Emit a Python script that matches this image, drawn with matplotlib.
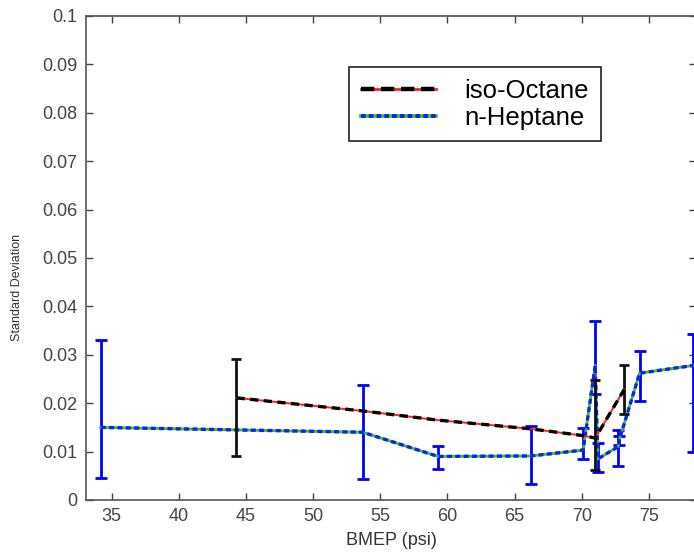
import numpy as np
import matplotlib.pyplot as plt
from matplotlib.legend_handler import HandlerTuple

plt.rcParams['font.family'] = ['Liberation Sans', 'DejaVu Sans']

# n-Heptane: BMEP, std dev, lower / upper error bound
hep_x = [34.2, 53.7, 59.3, 66.2, 70.1, 71.0, 71.2, 72.7, 72.8, 74.3, 78.3]
hep_y = [0.0150, 0.0140, 0.0090, 0.0091, 0.0103, 0.0278, 0.0085, 0.0110, 0.0125, 0.0262, 0.0278]
hep_lo = [0.0045, 0.0043, 0.0065, 0.0033, 0.0084, 0.0220, 0.0057, 0.0070, 0.0113, 0.0204, 0.0099]
hep_hi = [0.0331, 0.0237, 0.0112, 0.0152, 0.0149, 0.0370, 0.0117, 0.0144, 0.0132, 0.0307, 0.0342]

# iso-Octane
oct_x = [44.3, 53.7, 59.3, 66.2, 70.1, 71.0, 73.15]
oct_y = [0.0211, 0.0184, 0.0165, 0.0147, 0.0133, 0.0128, 0.0228]
# only these bars are visible
oct_bar_x = [44.3, 71.0, 73.15]
oct_bar_y = [0.0211, 0.0155, 0.0228]
oct_bar_lo = [0.0091, 0.0062, 0.0177]
oct_bar_hi = [0.0292, 0.0247, 0.0278]

fig = plt.figure(figsize=(6.94, 5.55), dpi=100)
ax = fig.add_axes([86 / 694, 55 / 555, 610 / 694, 484 / 555])

hy = np.array(hep_y)
ax.errorbar(hep_x, hep_y, yerr=[hy - np.array(hep_lo), np.array(hep_hi) - hy],
            fmt='none', ecolor='#0000ff', elinewidth=2, capsize=4.3, capthick=2, zorder=2)
ax.plot(hep_x, hep_y, color='#22cc22', lw=2.0, zorder=3)
ax.plot(hep_x, hep_y, color='#1a1aff', lw=2.4, ls=(0, (1.5, 1)), zorder=4)

oy = np.array(oct_bar_y)
ax.errorbar(oct_bar_x, oct_bar_y, yerr=[oy - np.array(oct_bar_lo), np.array(oct_bar_hi) - oy],
            fmt='none', ecolor='#111111', elinewidth=2, capsize=3.8, capthick=2, zorder=5)
ax.plot(oct_x, oct_y, color='#ff2020', lw=1.4, zorder=6)
ax.plot(oct_x, oct_y, color='#000000', lw=2.4, ls=(0, (2.5, 1.6)), zorder=7)

ax.set_xlim(33.1, 78.5)
ax.set_ylim(0, 0.1)
ax.set_xticks([35, 40, 45, 50, 55, 60, 65, 70, 75])
ax.set_yticks(np.arange(0, 0.101, 0.01))
ax.set_yticklabels(['0', '0.01', '0.02', '0.03', '0.04', '0.05', '0.06', '0.07', '0.08', '0.09', '0.1'])
ax.tick_params(direction='in', length=5, width=1, colors='#444444', labelsize=13,
               top=True, right=True, pad=6)
for s in ax.spines.values():
    s.set_color('#555555')
    s.set_linewidth(1.2)

ax.set_xlabel('BMEP (psi)', fontsize=13, color='#333333', labelpad=5)
ax.set_ylabel('Standard Deviation', fontsize=9, color='#333333')
ax.yaxis.set_label_coords((23 - 86) / 610, (500 - 287) / 484)

# legend proxies: overlaid pairs of lines
h1 = (plt.Line2D([], [], color='#ff2020', lw=2),
      plt.Line2D([], [], color='#000000', lw=3.2, ls=(0, (3, 1.5))))
h2 = (plt.Line2D([], [], color='#22cc22', lw=2.6),
      plt.Line2D([], [], color='#1a1aff', lw=2.8, ls=(0, (1.2, 0.8))))
leg = ax.legend([h1, h2], ['iso-Octane', 'n-Heptane'],
                handler_map={tuple: HandlerTuple(ndivide=1)},
                loc='upper left', bbox_to_anchor=((349 - 86) / 610, (500 - 67) / 484),
                borderaxespad=0, fontsize=18.5, handlelength=2.95, handletextpad=1.1,
                labelspacing=0.12, borderpad=0.45, fancybox=False, framealpha=1)
leg.get_frame().set_edgecolor('#222222')
leg.get_frame().set_linewidth(1.2)

fig.savefig('out.png', dpi=100)
